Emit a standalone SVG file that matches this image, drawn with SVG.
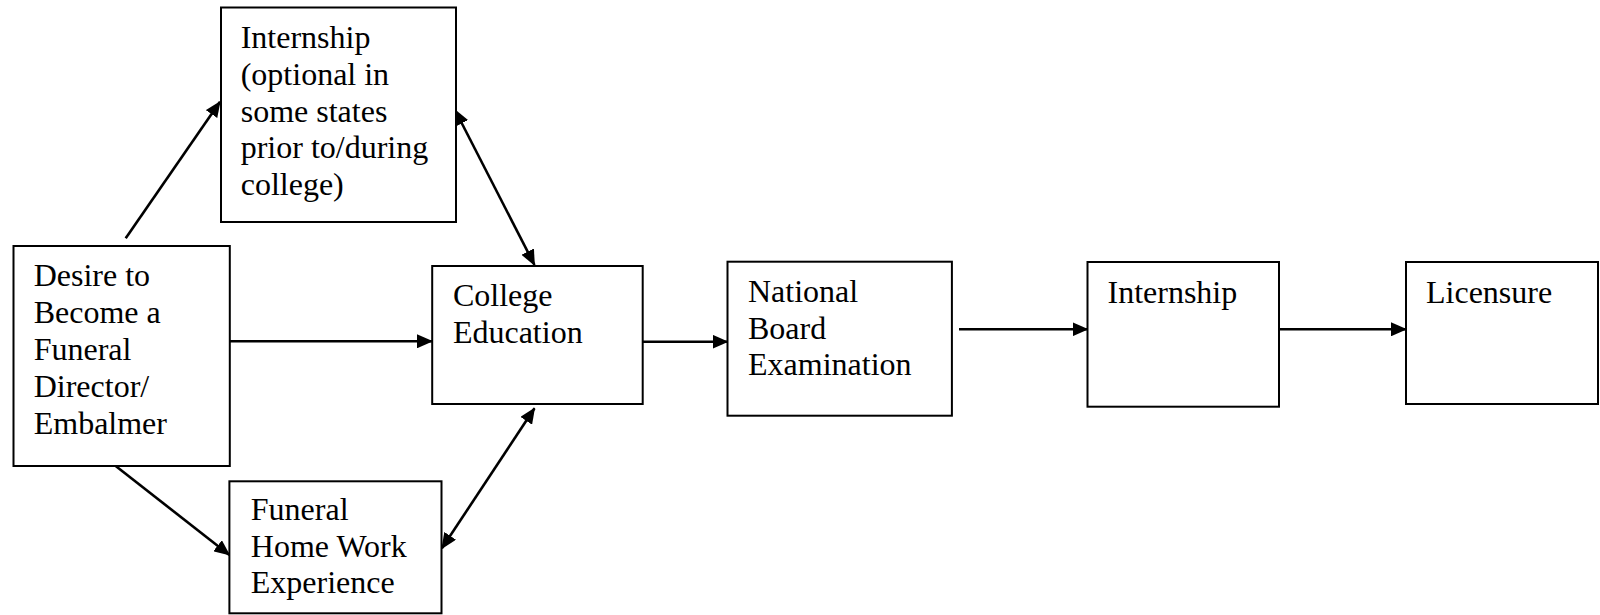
<svg xmlns="http://www.w3.org/2000/svg" width="1600" height="615" viewBox="0 0 1600 615">
<style>
.box{fill:#fff;stroke:#000;stroke-width:2}
.t{font-family:"Liberation Serif","Times New Roman",serif;font-size:32px;fill:#000}
.c{stroke:#000;stroke-width:2.6;fill:none}
</style>
<defs>
<marker id="ah" viewBox="0 0 16 14" refX="15" refY="7" markerWidth="16" markerHeight="14" markerUnits="userSpaceOnUse" orient="auto-start-reverse">
<path d="M0,0 L16,7 L0,14 z" fill="#000"/>
</marker>
</defs>
<rect width="1600" height="615" fill="#fff"/>
<g id="connectors">
<line class="c" x1="125.7" y1="238.3" x2="220" y2="101.7" marker-end="url(#ah)"/>
<line class="c" x1="230" y1="341.3" x2="432" y2="341.3" marker-end="url(#ah)"/>
<line class="c" x1="115.7" y1="466" x2="229.4" y2="555" marker-end="url(#ah)"/>
<line class="c" x1="455" y1="110" x2="534.5" y2="265" marker-start="url(#ah)" marker-end="url(#ah)"/>
<line class="c" x1="534.5" y1="408.3" x2="441.9" y2="548.3" marker-start="url(#ah)" marker-end="url(#ah)"/>
<line class="c" x1="643" y1="341.7" x2="727.5" y2="341.7" marker-end="url(#ah)"/>
<line class="c" x1="959" y1="329.3" x2="1087.5" y2="329.3" marker-end="url(#ah)"/>
<line class="c" x1="1279" y1="329.3" x2="1406" y2="329.3" marker-end="url(#ah)"/>
</g>
<g id="internship1">
<rect class="box" x="221" y="7.5" width="235" height="214.5"/>
<text class="t"><tspan x="240.7" y="48.3">Internship</tspan><tspan x="240.7" y="85">(optional in</tspan><tspan x="240.7" y="121.7">some states</tspan><tspan x="240.7" y="158.4">prior to/during</tspan><tspan x="240.7" y="195">college)</tspan></text>
</g>
<g id="desire">
<rect class="box" x="13.5" y="246" width="216.3" height="220"/>
<text class="t"><tspan x="33.7" y="286">Desire to</tspan><tspan x="33.7" y="323">Become a</tspan><tspan x="33.7" y="360">Funeral</tspan><tspan x="33.7" y="397">Director/</tspan><tspan x="33.7" y="434">Embalmer</tspan></text>
</g>
<g id="college">
<rect class="box" x="432.2" y="266" width="210.5" height="138"/>
<text class="t"><tspan x="452.9" y="306">College</tspan><tspan x="452.9" y="343">Education</tspan></text>
</g>
<g id="funeral">
<rect class="box" x="229.4" y="481.3" width="212.1" height="132"/>
<text class="t"><tspan x="250.8" y="520">Funeral</tspan><tspan x="250.8" y="557">Home Work</tspan><tspan x="250.8" y="593">Experience</tspan></text>
</g>
<g id="national">
<rect class="box" x="727.5" y="261.7" width="224.4" height="154"/>
<text class="t"><tspan x="748" y="301.7">National</tspan><tspan x="748" y="338.5">Board</tspan><tspan x="748" y="375">Examination</tspan></text>
</g>
<g id="internship2">
<rect class="box" x="1087.5" y="262" width="191.5" height="144.7"/>
<text class="t" x="1107.5" y="302.7">Internship</text>
</g>
<g id="licensure">
<rect class="box" x="1406" y="262" width="192" height="142"/>
<text class="t" x="1426" y="302.7">Licensure</text>
</g>
</svg>
